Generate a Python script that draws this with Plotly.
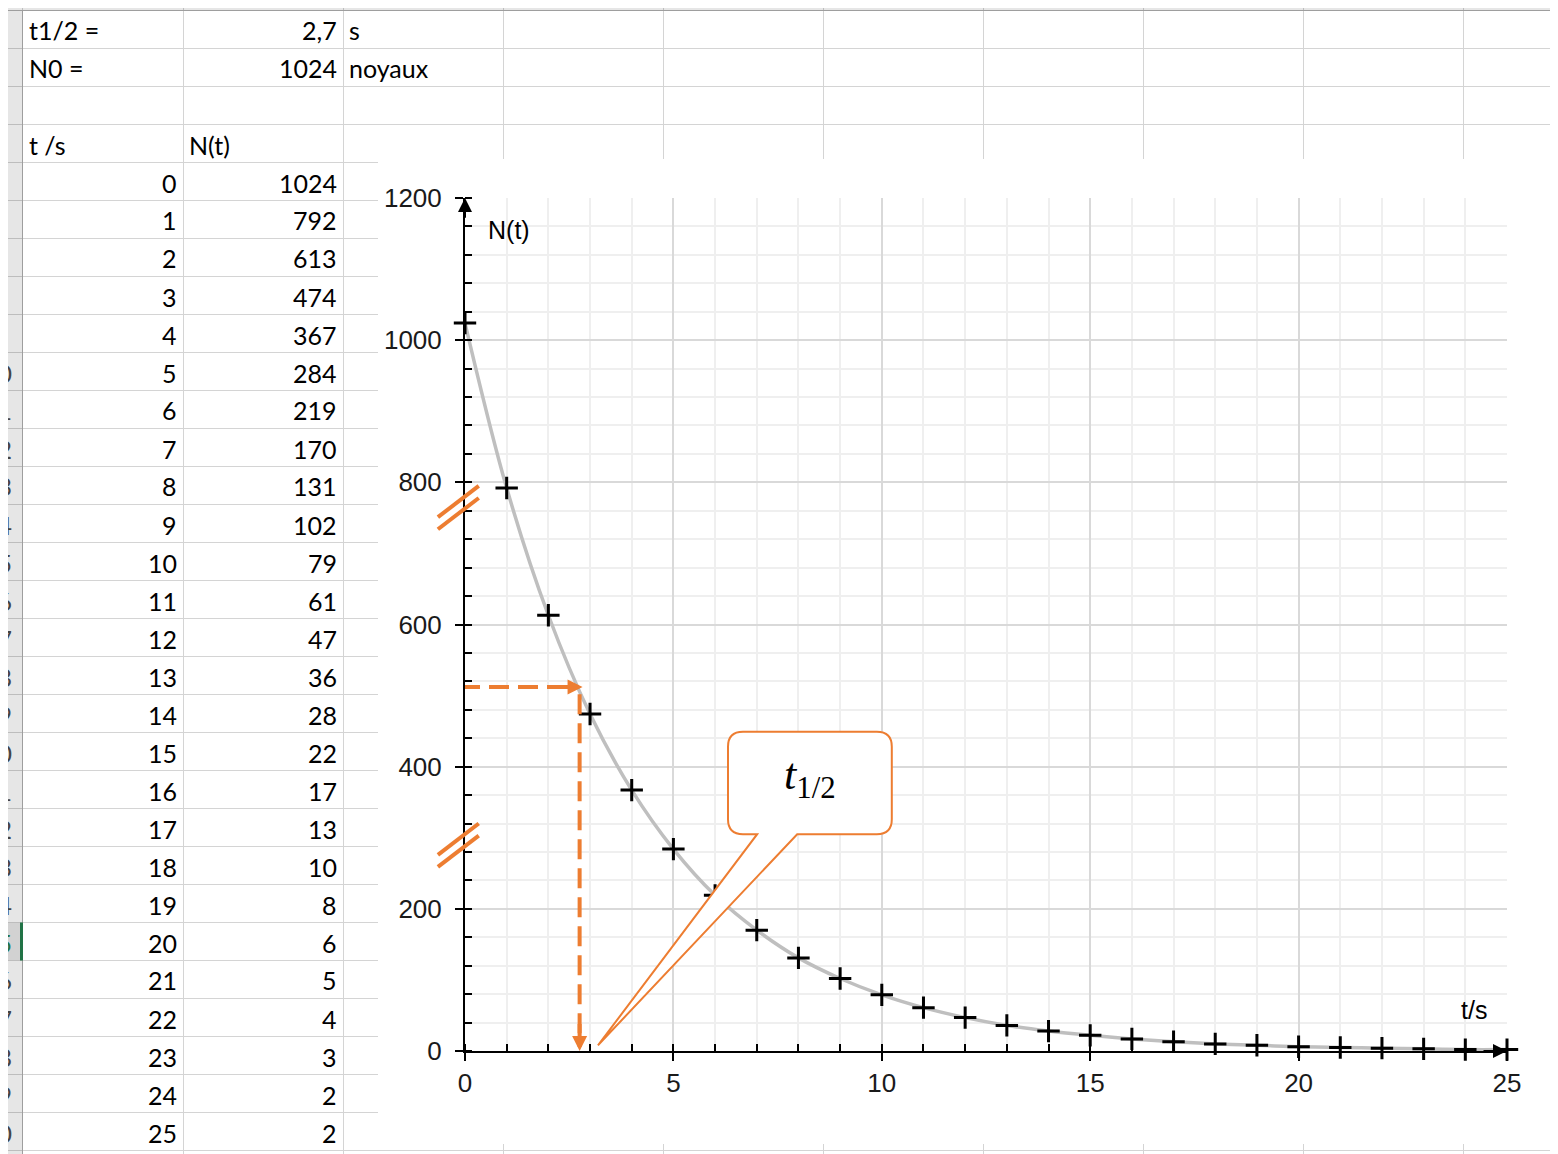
import plotly.graph_objects as go

# ---- data (read from the sheet) ----
t_s = list(range(26))
n_t = [1024, 792, 613, 474, 367, 284, 219, 170, 131, 102, 79, 61, 47, 36,
       28, 22, 17, 13, 10, 8, 6, 5, 4, 3, 2, 2]
T_HALF = 2.7
N0 = 1024
info_labels = ["t1/2 =", "N0 ="]
info_values = ["2,7", "1024"]
info_units = ["s", "noyaux"]
col_headers = ["t /s", "N(t)"]
col_letters = ["A", "B", "C", "D", "E", "F", "G", "H", "I", "J"]

W, H = 1558, 1154
OFF = 8  # page body margin, the figure starts 8px in
FW, FH = W - OFF, H - OFF
ORANGE = '#ED7D31'
SHEET_FONT = 'Lato, Calibri, sans-serif'
CHART_FONT = 'Liberation Sans, Arial, sans-serif'

# sheet geometry in screen pixels
ROW_TOP = 10.5
ROW_H = 38
COL_EDGES = [22.5, 183.5, 343.5, 503.5, 663.5, 823.5, 983.5, 1143.5, 1303.5, 1463.5, 1623.5]
N_ROWS = 30
SELECTED_ROW = 25

# plot area in screen pixels
PX_X0, PX_X1 = 465, 1507
PX_Y0, PX_Y1 = 1051, 198
X_MAX, Y_MAX = 25, 1200


def fx(p):
    return (p - OFF) / FW


def fy(p):
    return 1 - (p - OFF) / FH


def data_to_paper(x, y):
    px = PX_X0 + (PX_X1 - PX_X0) * x / X_MAX
    py = PX_Y0 + (PX_Y1 - PX_Y0) * y / Y_MAX
    return fx(px), fy(py)


def row_center(r):
    return ROW_TOP + ROW_H * (r - 0.5) + 1


shapes = []
annotations = []


def rect(x0, y0, x1, y1, fill):
    shapes.append(dict(type='rect', xref='paper', yref='paper', layer='below',
                       x0=fx(x0), x1=fx(x1), y0=fy(y0), y1=fy(y1),
                       fillcolor=fill, line=dict(color=fill, width=0)))


def hline(y, x0, x1, color, width=1):
    shapes.append(dict(type='line', xref='paper', yref='paper', layer='below',
                       x0=fx(x0), x1=fx(x1), y0=fy(y), y1=fy(y),
                       line=dict(color=color, width=width)))


def vline(x, y0, y1, color, width=1):
    shapes.append(dict(type='line', xref='paper', yref='paper', layer='below',
                       x0=fx(x), x1=fx(x), y0=fy(y0), y1=fy(y1),
                       line=dict(color=color, width=width)))


def cell_text(text, px, r, anchor, color='black'):
    annotations.append(dict(text=text, xref='paper', yref='paper',
                            x=fx(px), y=fy(row_center(r)), xanchor=anchor, yanchor='middle',
                            showarrow=False, font=dict(family=SHEET_FONT, size=25, color=color)))


# ---- spreadsheet background ----
for k in range(N_ROWS + 2):
    hline(ROW_TOP + ROW_H * k, 22, W, '#d4d4d4')
for x in COL_EDGES[1:]:
    vline(x, ROW_TOP, H, '#d4d4d4')

# headers
rect(0, 0, W, ROW_TOP, '#e6e6e6')
rect(0, ROW_TOP, 22.5, H, '#e6e6e6')
sel_top = ROW_TOP + ROW_H * (SELECTED_ROW - 1)
rect(0, sel_top, 22.5, sel_top + ROW_H, '#d2d2d2')
for x in COL_EDGES:
    vline(x, 0, ROW_TOP, '#bdbdbd')
for k in range(N_ROWS + 2):
    hline(ROW_TOP + ROW_H * k, 0, 22.5, '#bdbdbd')
hline(ROW_TOP, 0, W, '#9e9e9e')
vline(22.5, ROW_TOP, H, '#9e9e9e')
vline(21.5, sel_top, sel_top + ROW_H, '#217346', 3)

for i, letter in enumerate(col_letters):
    cx = (COL_EDGES[i] + COL_EDGES[i + 1]) / 2
    annotations.append(dict(text=letter, xref='paper', yref='paper', x=fx(cx), y=fy(-6),
                            xanchor='center', yanchor='middle', showarrow=False,
                            font=dict(family=SHEET_FONT, size=25, color='#444444')))
for r in range(1, N_ROWS + 1):
    color = '#217346' if r == SELECTED_ROW else '#444444'
    annotations.append(dict(text=str(r), xref='paper', yref='paper', x=fx(-3), y=fy(row_center(r)),
                            xanchor='center', yanchor='middle', showarrow=False,
                            font=dict(family=SHEET_FONT, size=25, color=color)))

# cells
for r, (lab, val, unit) in enumerate(zip(info_labels, info_values, info_units), start=1):
    cell_text(lab, 27, r, 'left')
    cell_text(val, 339, r, 'right')
    cell_text(unit, 347, r, 'left')
cell_text(col_headers[0], 27, 4, 'left')
cell_text(col_headers[1], 187, 4, 'left')
for i, (tv, nv) in enumerate(zip(t_s, n_t)):
    cell_text(str(tv), 179, 5 + i, 'right')
    cell_text(str(nv), 339, 5 + i, 'right')

# chart area (white, over the grid)
rect(378, 159, 1551, 1144, 'white')

# ---- chart ----
fig = go.Figure()
fig.add_trace(go.Scatter(x=t_s, y=n_t, mode='lines+markers',
                         line=dict(shape='spline', smoothing=1, color='#bfbfbf', width=3.5),
                         marker=dict(symbol='cross-thin', size=16, color='black',
                                     line=dict(width=3, color='black')),
                         cliponaxis=False, showlegend=False))

# half-life construction lines
shapes.append(dict(type='line', xref='x', yref='y', x0=-0.12, x1=T_HALF - 0.2,
                   y0=N0 / 2, y1=N0 / 2, line=dict(color=ORANGE, width=4, dash='20px,9px')))
shapes.append(dict(type='line', xref='x', yref='y', x0=T_HALF + 0.05, x1=T_HALF + 0.05,
                   y0=N0 / 2 - 10, y1=15, line=dict(color=ORANGE, width=4, dash='20px,9px')))
annotations.append(dict(x=T_HALF + 0.12, y=N0 / 2, ax=T_HALF - 0.3, ay=N0 / 2,
                        xref='x', yref='y', axref='x', ayref='y', text='', showarrow=True,
                        arrowhead=2, arrowsize=0.75, arrowwidth=4, arrowcolor=ORANGE))
annotations.append(dict(x=T_HALF + 0.05, y=0, ax=T_HALF + 0.05, ay=40,
                        xref='x', yref='y', axref='x', ayref='y', text='', showarrow=True,
                        arrowhead=2, arrowsize=0.75, arrowwidth=4, arrowcolor=ORANGE))

# callout "t1/2"
bx0, bx1, by0, by1 = 6.31, 10.24, 305, 449
rx, ry = 0.36, 21
px0, px1, tipx, tipy = 7.01, 7.97, 3.19, 8
path = (f"M{bx0 + rx},{by1} L{bx1 - rx},{by1} Q{bx1},{by1} {bx1},{by1 - ry} "
        f"L{bx1},{by0 + ry} Q{bx1},{by0} {bx1 - rx},{by0} L{px1},{by0} L{tipx},{tipy} "
        f"L{px0},{by0} L{bx0 + rx},{by0} Q{bx0},{by0} {bx0},{by0 + ry} "
        f"L{bx0},{by1 - ry} Q{bx0},{by1} {bx0 + rx},{by1} Z")
shapes.append(dict(type='path', xref='x', yref='y', path=path, fillcolor='white',
                   line=dict(color=ORANGE, width=2)))
annotations.append(dict(x=(bx0 + bx1) / 2, y=(by0 + by1) / 2 + 8, xref='x', yref='y',
                        text='<i>t</i><sub>1/2</sub>', showarrow=False,
                        font=dict(family='Liberation Serif, serif', size=44, color='black')))

# axis break marks
for yc in (773, 298):
    for dy in (0, -17):
        xa, ya = data_to_paper(-0.65, yc + dy - 22)
        xb, yb = data_to_paper(0.33, yc + dy + 22)
        shapes.append(dict(type='line', xref='paper', yref='paper', x0=xa, y0=ya, x1=xb, y1=yb,
                           line=dict(color=ORANGE, width=4)))

# axis arrows
annotations.append(dict(x=0, y=Y_MAX, ax=0, ay=Y_MAX - 30, xref='x', yref='y', axref='x', ayref='y',
                        text='', showarrow=True, arrowhead=2, arrowsize=1.4, arrowwidth=2,
                        arrowcolor='black'))
annotations.append(dict(x=X_MAX, y=0, ax=X_MAX - 0.6, ay=0, xref='x', yref='y', axref='x', ayref='y',
                        text='', showarrow=True, arrowhead=2, arrowsize=1.4, arrowwidth=2,
                        arrowcolor='black'))

# axis labels
annotations.append(dict(x=0.5, y=1155, xref='x', yref='y', text='N(t)', showarrow=False,
                        xanchor='left', font=dict(family=CHART_FONT, size=25, color='black')))
annotations.append(dict(x=24.2, y=58, xref='x', yref='y', text='t/s', showarrow=False,
                        font=dict(family=CHART_FONT, size=25, color='black')))

axis_common = dict(showline=True, linecolor='black', linewidth=2, ticks='outside', ticklen=8,
                   tickwidth=2, tickcolor='black', gridwidth=2, gridcolor='#d9d9d9',
                   zeroline=False, tickfont=dict(family=CHART_FONT, size=26, color='#1a1a1a'))
fig.update_xaxes(range=[0, X_MAX], dtick=5, ticklabelstandoff=0,
                 domain=[fx(PX_X0), fx(PX_X1)],
                 minor=dict(dtick=1, ticks='inside', ticklen=7, tickwidth=2, tickcolor='black',
                            showgrid=True, gridcolor='#efefef', gridwidth=2),
                 **axis_common)
fig.update_yaxes(range=[0, Y_MAX], dtick=200, ticklabelstandoff=8,
                 domain=[fy(PX_Y0), fy(PX_Y1)],
                 minor=dict(dtick=40, ticks='inside', ticklen=7, tickwidth=2, tickcolor='black',
                            showgrid=True, gridcolor='#efefef', gridwidth=2),
                 **axis_common)

fig.update_layout(width=FW, height=FH, margin=dict(l=0, r=0, t=0, b=0, autoexpand=False),
                  paper_bgcolor='white', plot_bgcolor='rgba(0,0,0,0)',
                  shapes=shapes, annotations=annotations, showlegend=False)

fig.write_html("out.html")
